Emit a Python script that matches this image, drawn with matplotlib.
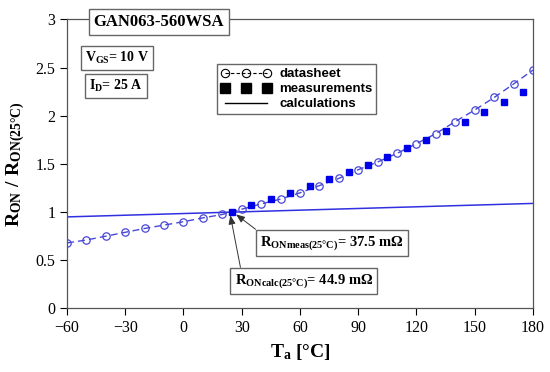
import matplotlib
matplotlib.use("Agg")
import matplotlib.pyplot as plt
from matplotlib.lines import Line2D

# datasheet curve, every 10 degC
t_ds = [-60, -50, -40, -30, -20, -10, 0, 10, 20, 30, 40, 50, 60, 70, 80, 90,
        100, 110, 120, 130, 140, 150, 160, 170, 180]
r_ds = [0.68, 0.71, 0.75, 0.79, 0.83, 0.865, 0.90, 0.94, 0.975, 1.03, 1.085,
        1.135, 1.20, 1.275, 1.35, 1.44, 1.52, 1.61, 1.71, 1.815, 1.94, 2.06,
        2.19, 2.33, 2.475]

# measurements
t_meas = [25, 35, 45, 55, 65, 75, 85, 95, 105, 115, 125, 135, 145, 155, 165, 175]
r_meas = [1.0, 1.076, 1.135, 1.20, 1.274, 1.34, 1.415, 1.49, 1.57, 1.665,
          1.75, 1.845, 1.94, 2.04, 2.14, 2.245]

# calculations
t_calc = [-60, 180]
r_calc = [0.95, 1.09]

plt.rcParams["font.family"] = "Liberation Serif"
plt.rcParams["mathtext.fontset"] = "custom"
plt.rcParams["mathtext.rm"] = "Liberation Serif:bold"
plt.rcParams["mathtext.it"] = "Liberation Serif:bold"
plt.rcParams["mathtext.bf"] = "Liberation Serif:bold"

fig = plt.figure(figsize=(5.5, 3.72), dpi=100)
ax = fig.add_axes([0.1218, 0.171, 0.8472, 0.7766])

ds_color = "#4848d8"
ax.plot(t_ds, r_ds, color=ds_color, linestyle=(0, (5, 3)), linewidth=1,
        marker="o", markersize=5.3, markerfacecolor="none",
        markeredgecolor=ds_color, markeredgewidth=0.9, zorder=3)
ax.plot(t_meas, r_meas, linestyle="none", marker="s", markersize=4.5,
        color="#0000e8", zorder=4)
ax.plot(t_calc, r_calc, color="#3030e0", linewidth=1.1, zorder=2)

ax.set_xlim(-60, 180)
ax.set_ylim(0, 3)
ax.set_xticks([-60, -30, 0, 30, 60, 90, 120, 150, 180])
ax.set_yticks([0, 0.5, 1, 1.5, 2, 2.5, 3])
ax.set_yticklabels(["0", "0.5", "1", "1.5", "2", "2.5", "3"])
ax.tick_params(direction="out", length=5, width=0.8, labelsize=11.5,
               top=False, right=False)
for s in ax.spines.values():
    s.set_color("#555555")
    s.set_linewidth(0.9)

ax.set_xlabel(r"$\mathrm{T_a}$ [°C]", fontsize=14, fontweight="bold", labelpad=4)
ax.set_ylabel(r"$\mathrm{R_{ON}\ /\ R_{ON(25°C)}}$", fontsize=14, labelpad=6)

box = dict(boxstyle="square,pad=0.3", facecolor="white", edgecolor="#666666",
           linewidth=1)
ax.text(0.197, 0.991, "GAN063-560WSA", transform=ax.transAxes, ha="center",
        va="center", fontsize=12, fontweight="bold", bbox=box, zorder=6,
        clip_on=False)
ax.text(0.108, 0.867, r"$\mathrm{V_{GS}}$= 10 V", transform=ax.transAxes,
        ha="center", va="center", fontsize=10, fontweight="bold", bbox=box)
ax.text(0.105, 0.770, r"$\mathrm{I_D}$= 25 A", transform=ax.transAxes,
        ha="center", va="center", fontsize=10, fontweight="bold", bbox=box)

arrow = dict(arrowstyle="-|>,head_length=0.5,head_width=0.2", color="#333333",
             linewidth=0.7, shrinkA=0, shrinkB=1)
ax.annotate(r"$\mathrm{R_{ONmeas(25°C)}}$= 37.5 mΩ", xy=(26.5, 0.985),
            xytext=(76.5, 0.678), ha="center", va="center", fontsize=10.5,
            fontweight="bold", bbox=box,
            arrowprops=dict(arrow, relpos=(0.02, 0.95)))
ax.annotate(r"$\mathrm{R_{ONcalc(25°C)}}$= 44.9 mΩ", xy=(24, 0.98),
            xytext=(62, 0.283), ha="center", va="center", fontsize=10.5,
            fontweight="bold", bbox=box,
            arrowprops=dict(arrow, relpos=(0.05, 0.95)))

handles = [
    Line2D([], [], color="black", linestyle=(0, (3, 2)), linewidth=0.8,
           marker="o", markersize=6, markerfacecolor="none",
           markeredgewidth=0.8),
    Line2D([], [], color="black", linestyle="none", marker="s", markersize=7),
    Line2D([], [], color="black", linewidth=1),
]
leg = ax.legend(handles, ["datasheet", "measurements", "calculations"],
                loc="upper left", bbox_to_anchor=(0.322, 0.846),
                borderaxespad=0, numpoints=3, handlelength=3.8,
                handletextpad=0.6, labelspacing=0.22, borderpad=0.3,
                fancybox=False, framealpha=1, edgecolor="#666666",
                prop={"family": "Liberation Sans", "weight": "bold",
                      "size": 9.5})
leg.get_frame().set_linewidth(1)

fig.savefig("out.png", dpi=100)
